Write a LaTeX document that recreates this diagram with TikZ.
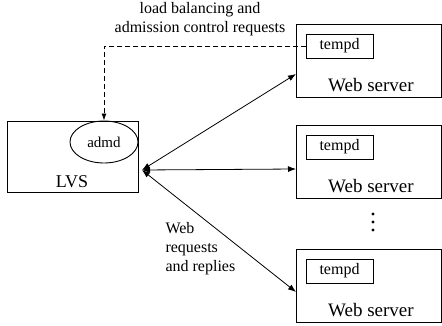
\documentclass[tikz,border=0pt]{standalone}
\usepackage{fontspec}
\setmainfont{Liberation Serif}
\usetikzlibrary{arrows.meta,positioning,shapes.geometric}

\begin{document}
\begin{tikzpicture}[x=1pt, y=-1pt, every node/.style={font=\rmfamily},
  box/.style={draw, line width=0.9pt, inner sep=0pt, anchor=north west},
  daemon/.style={draw, line width=0.9pt, minimum width=67pt, minimum height=24pt,
    inner sep=0pt, font=\rmfamily\fontsize{16}{18}\selectfont},
  title/.style={font=\rmfamily\fontsize{19}{22}\selectfont},
  lbl/.style={font=\rmfamily\fontsize{16}{19}\selectfont},
  arr/.style={{Latex[length=8pt,width=6pt]}-{Latex[length=8pt,width=6pt]}, line width=0.8pt}]
\useasboundingbox (0,0) rectangle (442,326);
% LVS
\node[box, minimum width=131pt, minimum height=71pt] (lvs) at (7,121) {};
\node[ellipse, draw, line width=0.9pt, minimum width=68pt, minimum height=42pt,
  inner sep=0pt, font=\rmfamily\fontsize{15}{18}\selectfont] (admd) at (104,142) {admd};
\node[font=\rmfamily\fontsize{18}{22}\selectfont] (lvslbl) at (72,182) {LVS};
\coordinate (hub) at (142,170);
% Web servers
\foreach \i/\y in {1/24, 2/125, 3/249} {
  \node[box, minimum width=145pt, minimum height=73pt] (ws\i) at (296,\y) {};
  \node[daemon] (tempd\i) at (339.5,\y+22) {tempd};
  \node[title] (wslbl\i) at (371,\y+61) {Web server};
}
% dots
\foreach \y in {214,222,230}
  \fill (373,\y) circle (1.6pt);
% Web traffic
\draw[arr] (hub) -- (ws1.west |- 0,74);
\draw[arr] (hub) -- (ws2.west |- 0,169);
\draw[arr] (hub) -- (ws3.west |- 0,292);
\node[lbl, align=left, anchor=north west] (web) at (162,219) {Web\\requests\\and replies};
% Control requests
\draw[dash pattern=on 5pt off 3pt, line width=0.9pt, -{Latex[length=7pt,width=5pt]}]
  (tempd1.west) -| (admd.north);
\node[lbl, align=center] (ctl) at (200,19) {load balancing and\\admission control requests};
\end{tikzpicture}
\end{document}
